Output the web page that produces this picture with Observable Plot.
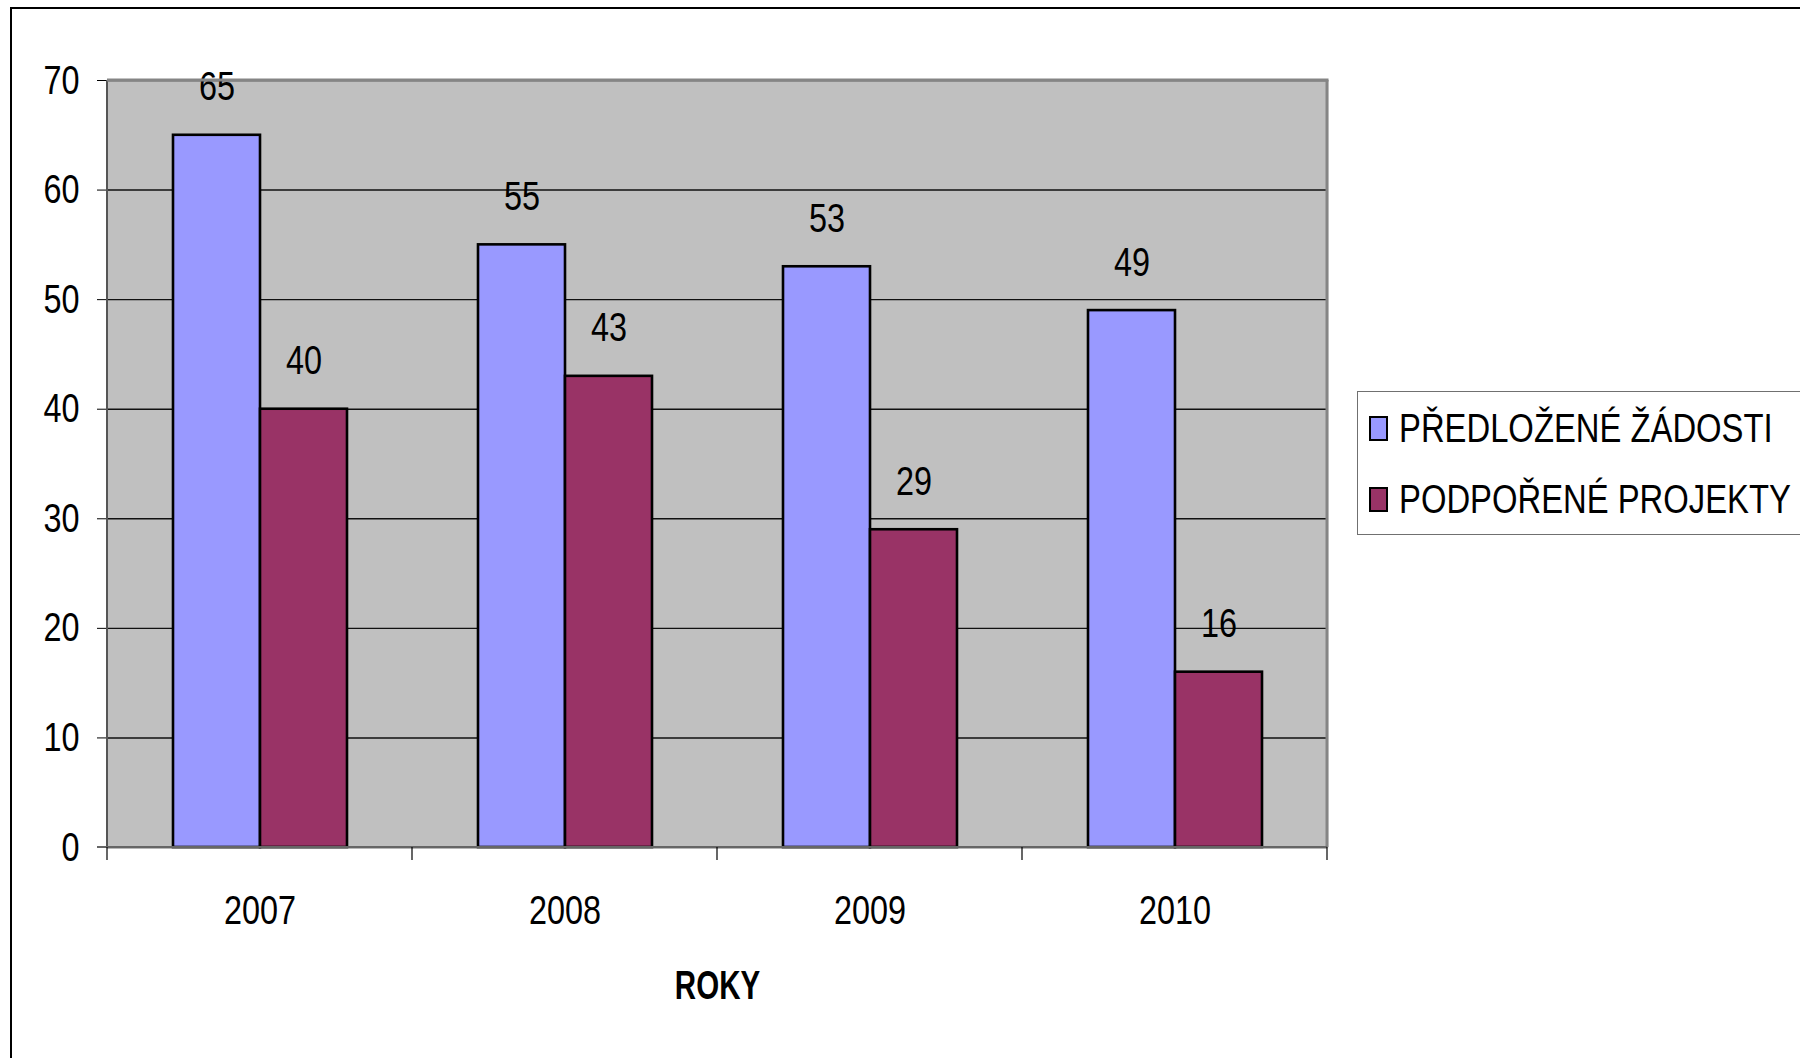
<!DOCTYPE html>
<html><head><meta charset="utf-8">
<script src="https://cdn.jsdelivr.net/npm/d3@7"></script>
<script src="https://cdn.jsdelivr.net/npm/@observablehq/plot@0.6"></script>
<style>
html,body{margin:0;padding:0;background:#fff;overflow:hidden;width:1800px;height:1058px;}
#wrap{position:relative;width:1800px;height:1058px;}
#wrap svg{position:absolute;left:0;top:0;}
#frame{position:absolute;left:10px;top:7px;width:1900px;height:1200px;border-left:2px solid #000;border-top:2px solid #000;}
#legend{position:absolute;left:1357px;top:391px;width:520px;height:142px;border:1.5px solid #707070;background:#fff;}
.item{position:absolute;left:11px;height:40px;display:flex;align-items:center;white-space:nowrap;color:#000;}
.sw{width:15px;height:21px;border:2px solid #000;margin-right:11px;flex:none;}
.lt{display:inline-block;transform:scaleX(0.8);transform-origin:0 50%;line-height:40px;}
</style></head>
<body><div id="wrap"><div id="frame"></div></div>
<script>
(function(){
const FONT = '"Liberation Sans",Arial,sans-serif';
const NARROW = 0.79;
const years = ["2007", "2008", "2009", "2010"];
const seriesNames = ["PŘEDLOŽENÉ ŽÁDOSTI", "PODPOŘENÉ PROJEKTY"];
const submitted = [65, 55, 53, 49];
const supported = [40, 43, 29, 16];
const seriesColors = ["#9999FF", "#993366"];
const yTicks = [0, 10, 20, 30, 40, 50, 60, 70];
const xTitle = "ROKY";

const data = years.flatMap((yr, i) => [
  {year: yr, series: seriesNames[0], value: submitted[i]},
  {year: yr, series: seriesNames[1], value: supported[i]}
]);

const chart = Plot.plot({
  width: 1800, height: 1058,
  marginLeft: 105, marginRight: 472, marginTop: 80, marginBottom: 211,
  style: {fontFamily: FONT, fontSize: "41px", color: "#000", background: "transparent", overflow: "visible"},
  fx: {domain: years, padding: 0, label: xTitle},
  x: {domain: seriesNames, paddingInner: 0, paddingOuter: 0.74, axis: null},
  y: {domain: [0, 70], ticks: yTicks},
  color: {domain: seriesNames, range: seriesColors},
  marks: [
    Plot.frame({fill: "#C0C0C0", stroke: "#C0C0C0", strokeWidth: 1.5}),
    Plot.gridY(yTicks, {stroke: "#111", strokeOpacity: 1, strokeWidth: 1.4}),
    Plot.axisY(yTicks, {tickSize: 10, tickPadding: 18, label: null, stroke: "#000", fontSize: 41}),
    Plot.axisFx({anchor: "bottom", tickSize: 0, tickPadding: 47, label: xTitle, labelAnchor: "center", labelOffset: 151, fontSize: 41}),
    Plot.barY(data, {fx: "year", x: "series", y: "value", fill: "series", stroke: "#000", strokeWidth: 2.6}),
    Plot.text(data, {fx: "year", x: "series", y: "value", text: d => String(d.value), dy: -48, fontSize: 41, fill: "#000"})
  ]
});
document.getElementById("wrap").prepend(chart);

const svg = d3.select(chart);
svg.selectAll('g[aria-label="fx-axis label"] text').attr("font-weight", "bold").classed("title", true);
// narrow the type (the reference uses a condensed face)
svg.selectAll("text").each(function () {
  const el = d3.select(this);
  const t = el.attr("transform") || "";
  const s = el.classed("title") ? 0.72 : NARROW;
  el.attr("transform", `${t} scale(${s},1)`);
});

const fxs = chart.scale("fx"), ys = chart.scale("y");
const left = fxs.apply(years[0]);
const right = fxs.apply(years[years.length - 1]) + fxs.bandwidth;
const yTop = ys.apply(70), base = ys.apply(0);
const g = svg.append("g");
g.append("line").attr("x1", left).attr("x2", left).attr("y1", yTop).attr("y2", base).attr("stroke", "#555").attr("stroke-width", 2);
g.append("line").attr("x1", left).attr("x2", right + 1.5).attr("y1", yTop).attr("y2", yTop).attr("stroke", "#858585").attr("stroke-width", 3);
g.append("line").attr("x1", right).attr("x2", right).attr("y1", yTop).attr("y2", base).attr("stroke", "#858585").attr("stroke-width", 3);
g.append("line").attr("x1", left - 10).attr("x2", right).attr("y1", base).attr("y2", base).attr("stroke", "#666").attr("stroke-width", 2);
const bounds = years.map(d => fxs.apply(d)).concat([right]);
g.selectAll(".bt").data(bounds).join("line").attr("x1", d => d).attr("x2", d => d)
  .attr("y1", base).attr("y2", base + 13).attr("stroke", "#000").attr("stroke-width", 1.2);

const leg = d3.select("#wrap").append("div").attr("id", "legend").style("font-family", FONT).style("font-size", "41px");
seriesNames.forEach((s, i) => {
  const it = leg.append("div").attr("class", "item").style("top", (i === 0 ? 16 : 87) + "px");
  it.append("div").attr("class", "sw").style("background", seriesColors[i]);
  it.append("span").attr("class", "lt").text(s);
});
})();
</script>
</body></html>
